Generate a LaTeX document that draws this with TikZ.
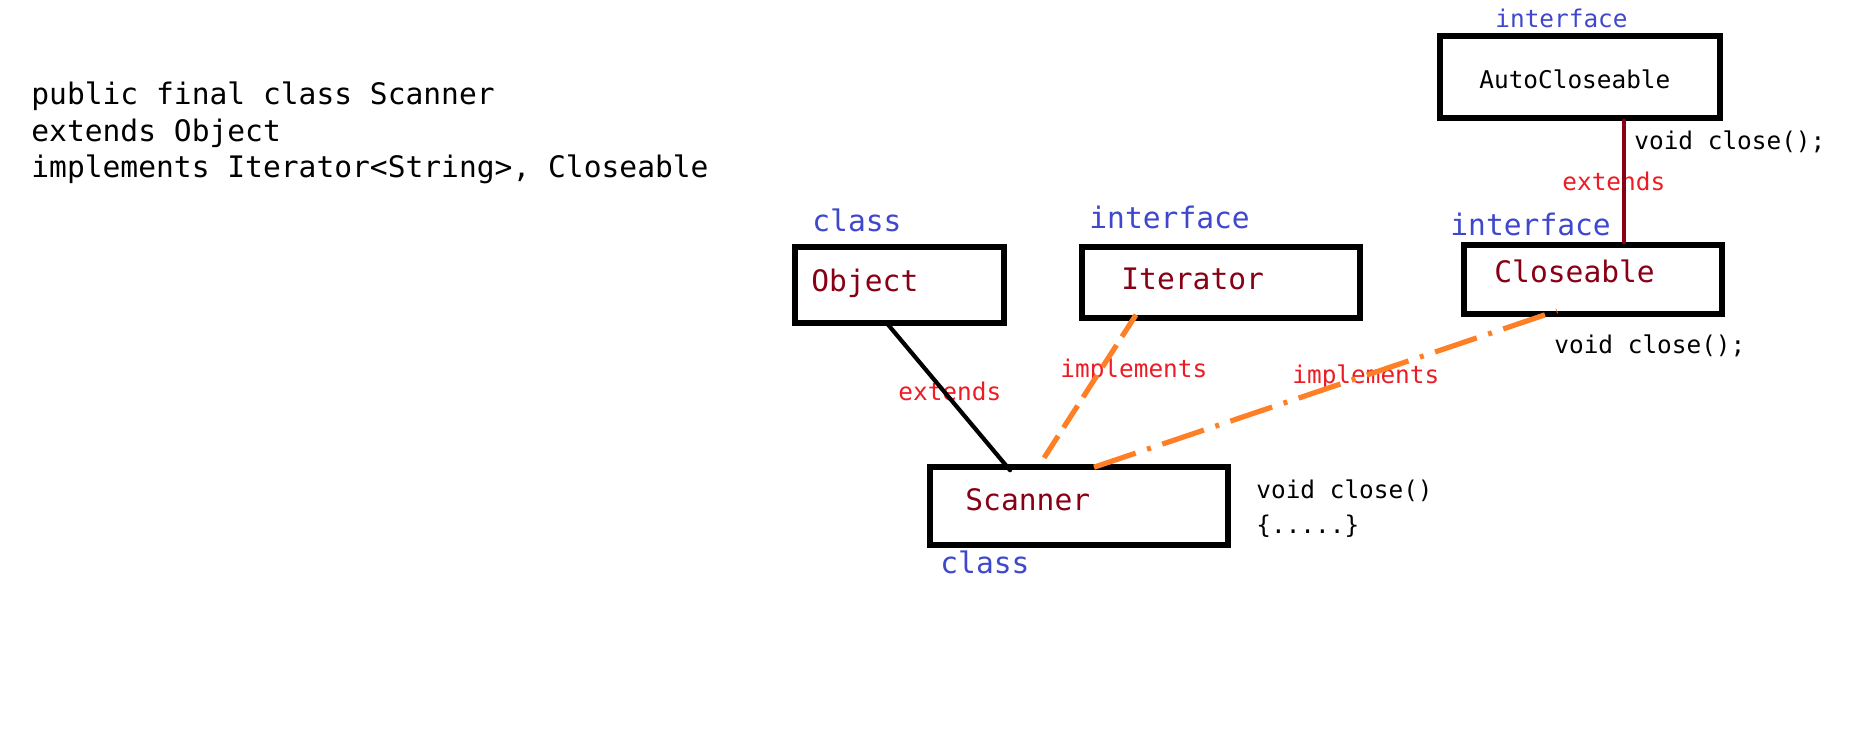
\documentclass[tikz,border=0pt]{standalone}
\usepackage{fontspec}
\setmonofont{DejaVu Sans Mono}
\usepackage{tikz}
\usepackage{xcolor}
\usetikzlibrary{calc}
\definecolor{paint-blue}{HTML}{3F48CC}
\definecolor{paint-darkred}{HTML}{880015}
\definecolor{paint-red}{HTML}{ED1C24}
\definecolor{paint-orange}{HTML}{FF7F27}
\tikzset{
    type-box/.style = {draw=black, line width=2.8pt, rectangle, inner sep=0pt},
    big-text/.style = {font=\ttfamily\fontsize{14.8}{18}\selectfont, inner sep=0pt, anchor=base west},
    small-text/.style = {font=\ttfamily\fontsize{12.2}{15}\selectfont, inner sep=0pt, anchor=base west},
    kind-label/.style = {text=paint-blue},
    type-name/.style = {text=paint-darkred},
    rel-label/.style = {text=paint-red},
    extends-line/.style = {line width=2.1pt, line cap=round},
    implements-line/.style = {draw=paint-orange, line width=2.6pt},
}

\begin{document}
\begin{tikzpicture}[x=0.5pt, y=-0.5pt]
\useasboundingbox (0,0) rectangle (1852,743);
\node[big-text] (decl-1) at (31,105) {public final class Scanner};
\node[big-text] (decl-2) at (31,142) {extends Object};
\node[big-text] (decl-3) at (31,178) {implements Iterator<String>, Closeable};

\node[type-box, minimum width=104.5pt, minimum height=38pt] (object) at (899.5,285) {};
\node[type-box, minimum width=139pt, minimum height=35.5pt] (iterator) at (1221,282.5) {};
\node[type-box, minimum width=129pt, minimum height=34.5pt] (closeable) at (1593,279.5) {};
\node[type-box, minimum width=140pt, minimum height=41pt] (autocloseable) at (1580,77) {};
\node[type-box, minimum width=149pt, minimum height=39pt] (scanner) at (1079,506) {};

\node[big-text, kind-label] (object-kind) at (812,232) {class};
\node[big-text, type-name] (object-name) at (811,292) {Object};
\node[big-text, kind-label] (iterator-kind) at (1089,229) {interface};
\node[big-text, type-name] (iterator-name) at (1121,290) {Iterator};
\node[big-text, kind-label] (closeable-kind) at (1450,236) {interface};
\node[big-text, type-name] (closeable-name) at (1494,283) {Closeable};
\node[big-text, type-name] (scanner-name) at (965,510) {Scanner};
\node[big-text, kind-label] (scanner-kind) at (940,573) {class};
\node[small-text, kind-label] (autocloseable-kind) at (1495,28) {interface};
\node[small-text] (autocloseable-name) at (1479,89) {AutoCloseable};

\node[small-text] (autocloseable-method) at (1634,150) {void close();};
\node[small-text] (closeable-method) at (1554,353) {void close();};
\node[small-text] (scanner-method) at (1256,498) {void close()};
\node[small-text] (scanner-body) at (1256,533) {\{.....\}};

\node[small-text, rel-label] (object-rel) at (898,400) {extends};
\node[small-text, rel-label] (iterator-rel) at (1060,377) {implements};
\node[small-text, rel-label] (closeable-rel) at (1292,383) {implements};
\node[small-text, rel-label] (autocloseable-rel) at (1562,191) {extends};

\draw[extends-line] ($(object.south)+(-13,-3)$) -- ($(scanner.north)+(-69,6)$);
\draw[implements-line, dash pattern=on 13pt off 5pt] ($(iterator.south)+(-85,-6)$) -- ($(scanner.north)+(-39,0)$);
\draw[implements-line, dash pattern=on 22pt off 6pt on 2pt off 6pt] ($(scanner.north)+(15,3)$) -- ($(closeable.south)+(-36,-6)$);
\draw[extends-line, draw=paint-darkred, line width=2.2pt] ($(autocloseable.south)+(44,0)$) -- ($(closeable.north)+(31,0)$);
\end{tikzpicture}
\end{document}
